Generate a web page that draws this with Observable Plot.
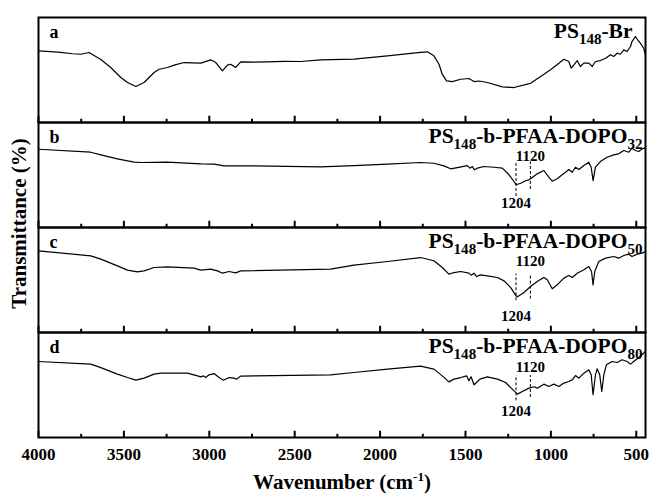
<!DOCTYPE html>
<html>
<head>
<meta charset="utf-8">
<script src="https://cdn.jsdelivr.net/npm/d3@7"></script>
<script src="https://cdn.jsdelivr.net/npm/@observablehq/plot@0.6"></script>
<style>
  html, body { margin: 0; padding: 0; background: #fff; }
</style>
</head>
<body>
<div id="chart"></div>
<script>
// ---- data ----
const panels = ["a", "b", "c", "d"];
const titles = ["PS_{148}-Br", "PS_{148}-b-PFAA-DOPO_{32}", "PS_{148}-b-PFAA-DOPO_{50}", "PS_{148}-b-PFAA-DOPO_{80}"];
const majorTicks = [4000, 3500, 3000, 2500, 2000, 1500, 1000, 500];
const minorTicks = [3750, 3250, 2750, 2250, 1750, 1250, 750];

const wnA = [4000,3930,3870,3800,3752,3704,3635,3577,3518,3479,3430,3382,3323,3294,3245,3206,3148,3100,3050,2992,2962,2923,2894,2875,2845,2816,2740,2660,2560,2465,2348,2153,1957,1763,1723,1685,1655,1636,1611,1577,1528,1480,1450,1420,1372,1284,1216,1138,1119,1060,1002,953,924,895,881,865,846,827,807,778,758,739,710,680,651,632,612,593,573,554,534,525,505,492,476,457,446];
const tA = [68.3,67.5,66.7,65.5,65.0,66.7,60.0,52.4,42.9,38.1,34.3,38.1,47.6,50.7,52.4,54.6,57.1,56.8,56.5,59.7,57.1,49.2,54.6,55.5,52.4,57.8,57.5,57.8,58.3,58.1,59.7,60.3,63.5,66.7,67.3,63.5,55.5,46.0,39.7,39.0,41.2,41.9,39.0,39.5,38.1,34.0,33.3,36.5,37.4,43.8,50.2,56.5,60.3,58.1,51.7,54.9,59.0,53.3,56.5,56.5,53.3,58.1,59.0,61.2,64.5,62.9,66.0,65.0,69.2,67.6,72.4,77.1,81.9,78.8,75.5,70.8,64.8];

const wnB = [4000,3694,3635,3538,3440,3401,3245,3050,2972,2914,2738,2348,2153,1957,1763,1685,1626,1587,1548,1489,1474,1460,1447,1431,1392,1333,1284,1245,1216,1204,1190,1177,1148,1128,1119,1080,1041,1012,992,963,934,914,895,875,856,836,807,778,764,753,739,710,671,632,603,573,544,525,505,485,466,447];
const tB = [74.5,71.7,69.2,65.4,62.2,61.9,62.2,60.6,60.3,58.7,58.7,57.8,59.0,60.3,61.9,61.2,58.7,55.9,57.1,59.0,56.5,58.1,54.9,56.5,58.1,57.4,56.5,50.2,43.8,40.9,41.4,42.2,44.5,45.4,46.4,51.1,54.3,47.9,44.1,46.4,50.2,52.6,55.2,52.6,57.4,55.2,59.0,62.2,57.4,44.7,57.4,62.8,66.9,69.2,70.2,73.3,71.7,75.5,73.3,72.4,74.9,75.9];

const wnC = [4000,3694,3635,3538,3479,3421,3382,3323,3245,3089,3050,2992,2952,2923,2884,2845,2816,2289,2153,1957,1763,1685,1636,1597,1567,1528,1480,1467,1450,1435,1413,1372,1313,1274,1235,1204,1196,1157,1119,1080,1041,1021,992,963,924,895,875,846,807,778,762,753,743,720,680,632,603,573,544,525,495,466,447];
const tC = [77.8,73.0,69.9,63.5,59.4,57.8,58.7,61.9,62.5,61.3,59.4,60.4,58.7,56.5,58.1,56.8,58.7,60.4,64.2,67.6,71.4,68.3,61.9,55.6,57.1,58.1,56.5,54.6,56.5,53.3,54.9,53.9,52.4,49.2,42.8,34.9,34.0,38.1,43.8,48.6,52.4,50.2,41.6,45.4,51.8,54.3,52.4,56.5,59.7,62.8,58.1,45.4,58.1,67.6,70.8,72.4,70.8,73.3,74.6,72.4,74.6,75.6,77.1];

const wnD = [4000,3694,3635,3538,3479,3430,3382,3323,3284,3128,3069,3050,3034,3021,3001,2972,2943,2917,2884,2855,2839,2816,2289,2153,1957,1763,1685,1636,1597,1567,1528,1493,1480,1467,1450,1435,1415,1372,1313,1265,1226,1196,1167,1128,1099,1080,1041,1012,983,953,924,895,875,856,836,807,778,764,753,739,729,714,702,690,675,641,612,583,554,534,515,485,457,447];
const tD = [72.4,69.9,66.6,60.4,57.1,54.6,56.5,60.4,61.3,61.3,58.7,57.8,58.7,57.1,59.7,60.9,57.1,54.6,57.1,56.5,55.6,58.5,59.7,61.9,65.1,68.0,65.1,58.7,53.0,55.6,57.1,58.7,54.0,57.8,50.2,52.4,55.6,57.8,55.6,52.4,46.1,41.3,43.8,47.0,48.3,47.0,50.8,48.6,50.8,48.6,51.8,53.3,54.9,59.0,56.5,61.3,64.5,59.7,40.7,59.7,65.4,59.7,43.8,59.7,69.2,72.4,71.4,74.0,72.4,69.9,72.4,76.2,80.3,81.9];

// peak markers (dashed lines) and their labels
const markPanels = ["b", "b", "c", "c", "d", "d"];
const markWn = [1204, 1120, 1204, 1120, 1204, 1120];
const markLow = [29.5, 36.2, 30.2, 31.8, 34.9, 38.1];
const markHigh = [62.5, 62.5, 55.6, 55.6, 59.0, 59.0];
const markLabelY = [23.0, 68.2, 15.9, 67.6, 25.0, 67.2];

// ---- tables ----
const series = [[wnA, tA], [wnB, tB], [wnC, tC], [wnD, tD]];
const spectra = series.flatMap(([w, t], i) => w.map((x, j) => ({panel: panels[i], wn: x, t: t[j]})));
const marks = markPanels.map((p, i) => ({panel: p, wn: markWn[i], y1: markLow[i], y2: markHigh[i], ly: markLabelY[i], label: String(markWn[i])}));
const titleRows = panels.map((p, i) => ({panel: p, title: titles[i]}));

const W = 651, H = 499, mT = 16, mB = 62;
const facetH = (H - mT - mB) / panels.length;
const serif = "'Liberation Serif', 'Times New Roman', Times, serif";

const chart = Plot.plot({
  width: W, height: H,
  marginTop: mT, marginBottom: mB, marginLeft: 38, marginRight: 6,
  style: {fontFamily: serif, fontWeight: "bold", fontSize: "17px", color: "black", background: "white"},
  x: {domain: [4000, 446], ticks: majorTicks, tickSize: 0, tickPadding: 10, tickFormat: d => String(d), label: null},
  y: {domain: [0, 100], axis: null},
  fy: {domain: panels, axis: null, padding: 0},
  marks: [
    Plot.line(spectra, {x: "wn", y: "t", fy: "panel", stroke: "black", strokeWidth: 1.2}),
    Plot.ruleX(marks, {x: "wn", y1: "y1", y2: "y2", fy: "panel", stroke: "black", strokeWidth: 1, strokeDasharray: "3,2"}),
    Plot.text(marks, {x: "wn", y: "ly", fy: "panel", text: "label", fontSize: 15, fontWeight: "bold", lineAnchor: "middle"}),
    Plot.tickX(majorTicks, {x: d => d, stroke: "black", strokeWidth: 2, insetTop: facetH - 6.5}),
    Plot.tickX(minorTicks, {x: d => d, stroke: "black", strokeWidth: 2, insetTop: facetH - 3.5}),
    Plot.frame({stroke: "black", strokeWidth: 2}),
    Plot.text(panels, {fy: d => d, text: d => d, frameAnchor: "top-left", lineAnchor: "middle", textAnchor: "start", dx: 11, dy: 15, fontSize: 18, fontWeight: "bold"}),
    Plot.text(titleRows.filter(d => d.panel === "a"), {fy: "panel", text: "title", frameAnchor: "top-right", lineAnchor: "middle", textAnchor: "end", dx: -13, dy: 14, fontSize: 21.5, fontWeight: "bold"}),
    Plot.text(titleRows.filter(d => d.panel !== "a"), {fy: "panel", text: "title", frameAnchor: "top-right", lineAnchor: "middle", textAnchor: "end", dx: -3, dy: 14, fontSize: 21.5, fontWeight: "bold"}),
    Plot.text(["Transmittance (%)"], {fy: ["c"], text: d => d, frameAnchor: "top-left", lineAnchor: "middle", textAnchor: "middle", dx: -19, dy: -4, rotate: -90, fontSize: 21, fontWeight: "bold"}),
    Plot.text(["Wavenumber (cm^{-1})"], {fy: ["d"], text: d => d, frameAnchor: "bottom", lineAnchor: "middle", textAnchor: "middle", dy: 45, fontSize: 21, fontWeight: "bold"})
  ]
});

document.getElementById("chart").appendChild(chart);

// rich text: _{..} subscript, ^{..} superscript
const NS = "http://www.w3.org/2000/svg";
chart.querySelectorAll("text").forEach(t => {
  const s = t.textContent;
  if (!/[_^]\{/.test(s)) return;
  const fs = parseFloat(getComputedStyle(t).fontSize) || 21;
  const parts = s.split(/([_^]\{[^}]*\})/).filter(p => p);
  while (t.firstChild) t.removeChild(t.firstChild);
  let shift = 0;
  for (const p of parts) {
    const ts = document.createElementNS(NS, "tspan");
    let target = 0, txt = p, size = null;
    if (p.startsWith("_{")) { target = fs * 0.26; txt = p.slice(2, -1); size = fs * 0.7; }
    else if (p.startsWith("^{")) { target = -fs * 0.4; txt = p.slice(2, -1); size = fs * 0.62; }
    const d = target - shift;
    if (d) ts.setAttribute("dy", d);
    shift = target;
    if (size) ts.setAttribute("font-size", size);
    ts.textContent = txt;
    t.appendChild(ts);
  }
});
</script>
</body>
</html>
